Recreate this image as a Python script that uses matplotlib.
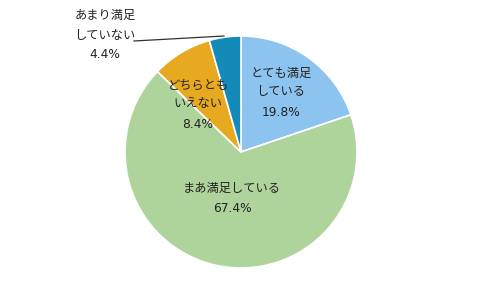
import matplotlib
matplotlib.use("Agg")
import matplotlib.pyplot as plt

plt.rcParams["font.family"] = ["DejaVu Sans", "Noto Sans CJK JP"]

labels = ["とても満足している", "まあ満足している", "どちらともいえない", "あまり満足していない"]
values = [19.8, 67.4, 8.4, 4.4]
colors = ["#8dc4ef", "#aed49c", "#e6a91f", "#148ab8"]
# label lines and where they sit (pixel coords in the 480x300 image)
label_lines = [
    ["とても満足", "している", "19.8%"],
    ["まあ満足している", "67.4%"],
    ["どちらとも", "いえない", "8.4%"],
    ["あまり満足", "していない", "4.4%"],
]
label_pos = [(281, [73, 92, 112]), (232, [188, 209]), (198, [85, 104, 124]), (105, [15, 35, 55])]

CX, CY, R = 241, 152, 116
W, H = 480, 300

fig = plt.figure(figsize=(4.8, 3.0), dpi=100)
fig.patch.set_facecolor("white")
ax = fig.add_axes([(CX - R) / W, (H - CY - R) / H, 2 * R / W, 2 * R / H])
ax.pie(values, colors=colors, startangle=90, counterclock=False, radius=1,
       wedgeprops={"edgecolor": "white", "linewidth": 1.2})
ax.set_xlim(-1, 1)
ax.set_ylim(-1, 1)
ax.axis("off")


def to_data(px, py):
    return (px - CX) / R, (CY - py) / R


for lines, (px, pys) in zip(label_lines, label_pos):
    for line, py in zip(lines, pys):
        x, y = to_data(px, py)
        ax.text(x, y, line, ha="center", va="center", fontsize=8.8, color="#222222",
                clip_on=False)

# leader line for the small slice
x0, y0 = to_data(134, 41)
x1, y1 = to_data(224, 36)
ax.plot([x0, x1], [y0, y1], color="#333333", linewidth=0.9, clip_on=False)

fig.savefig("out.png", dpi=100, facecolor=fig.get_facecolor())
